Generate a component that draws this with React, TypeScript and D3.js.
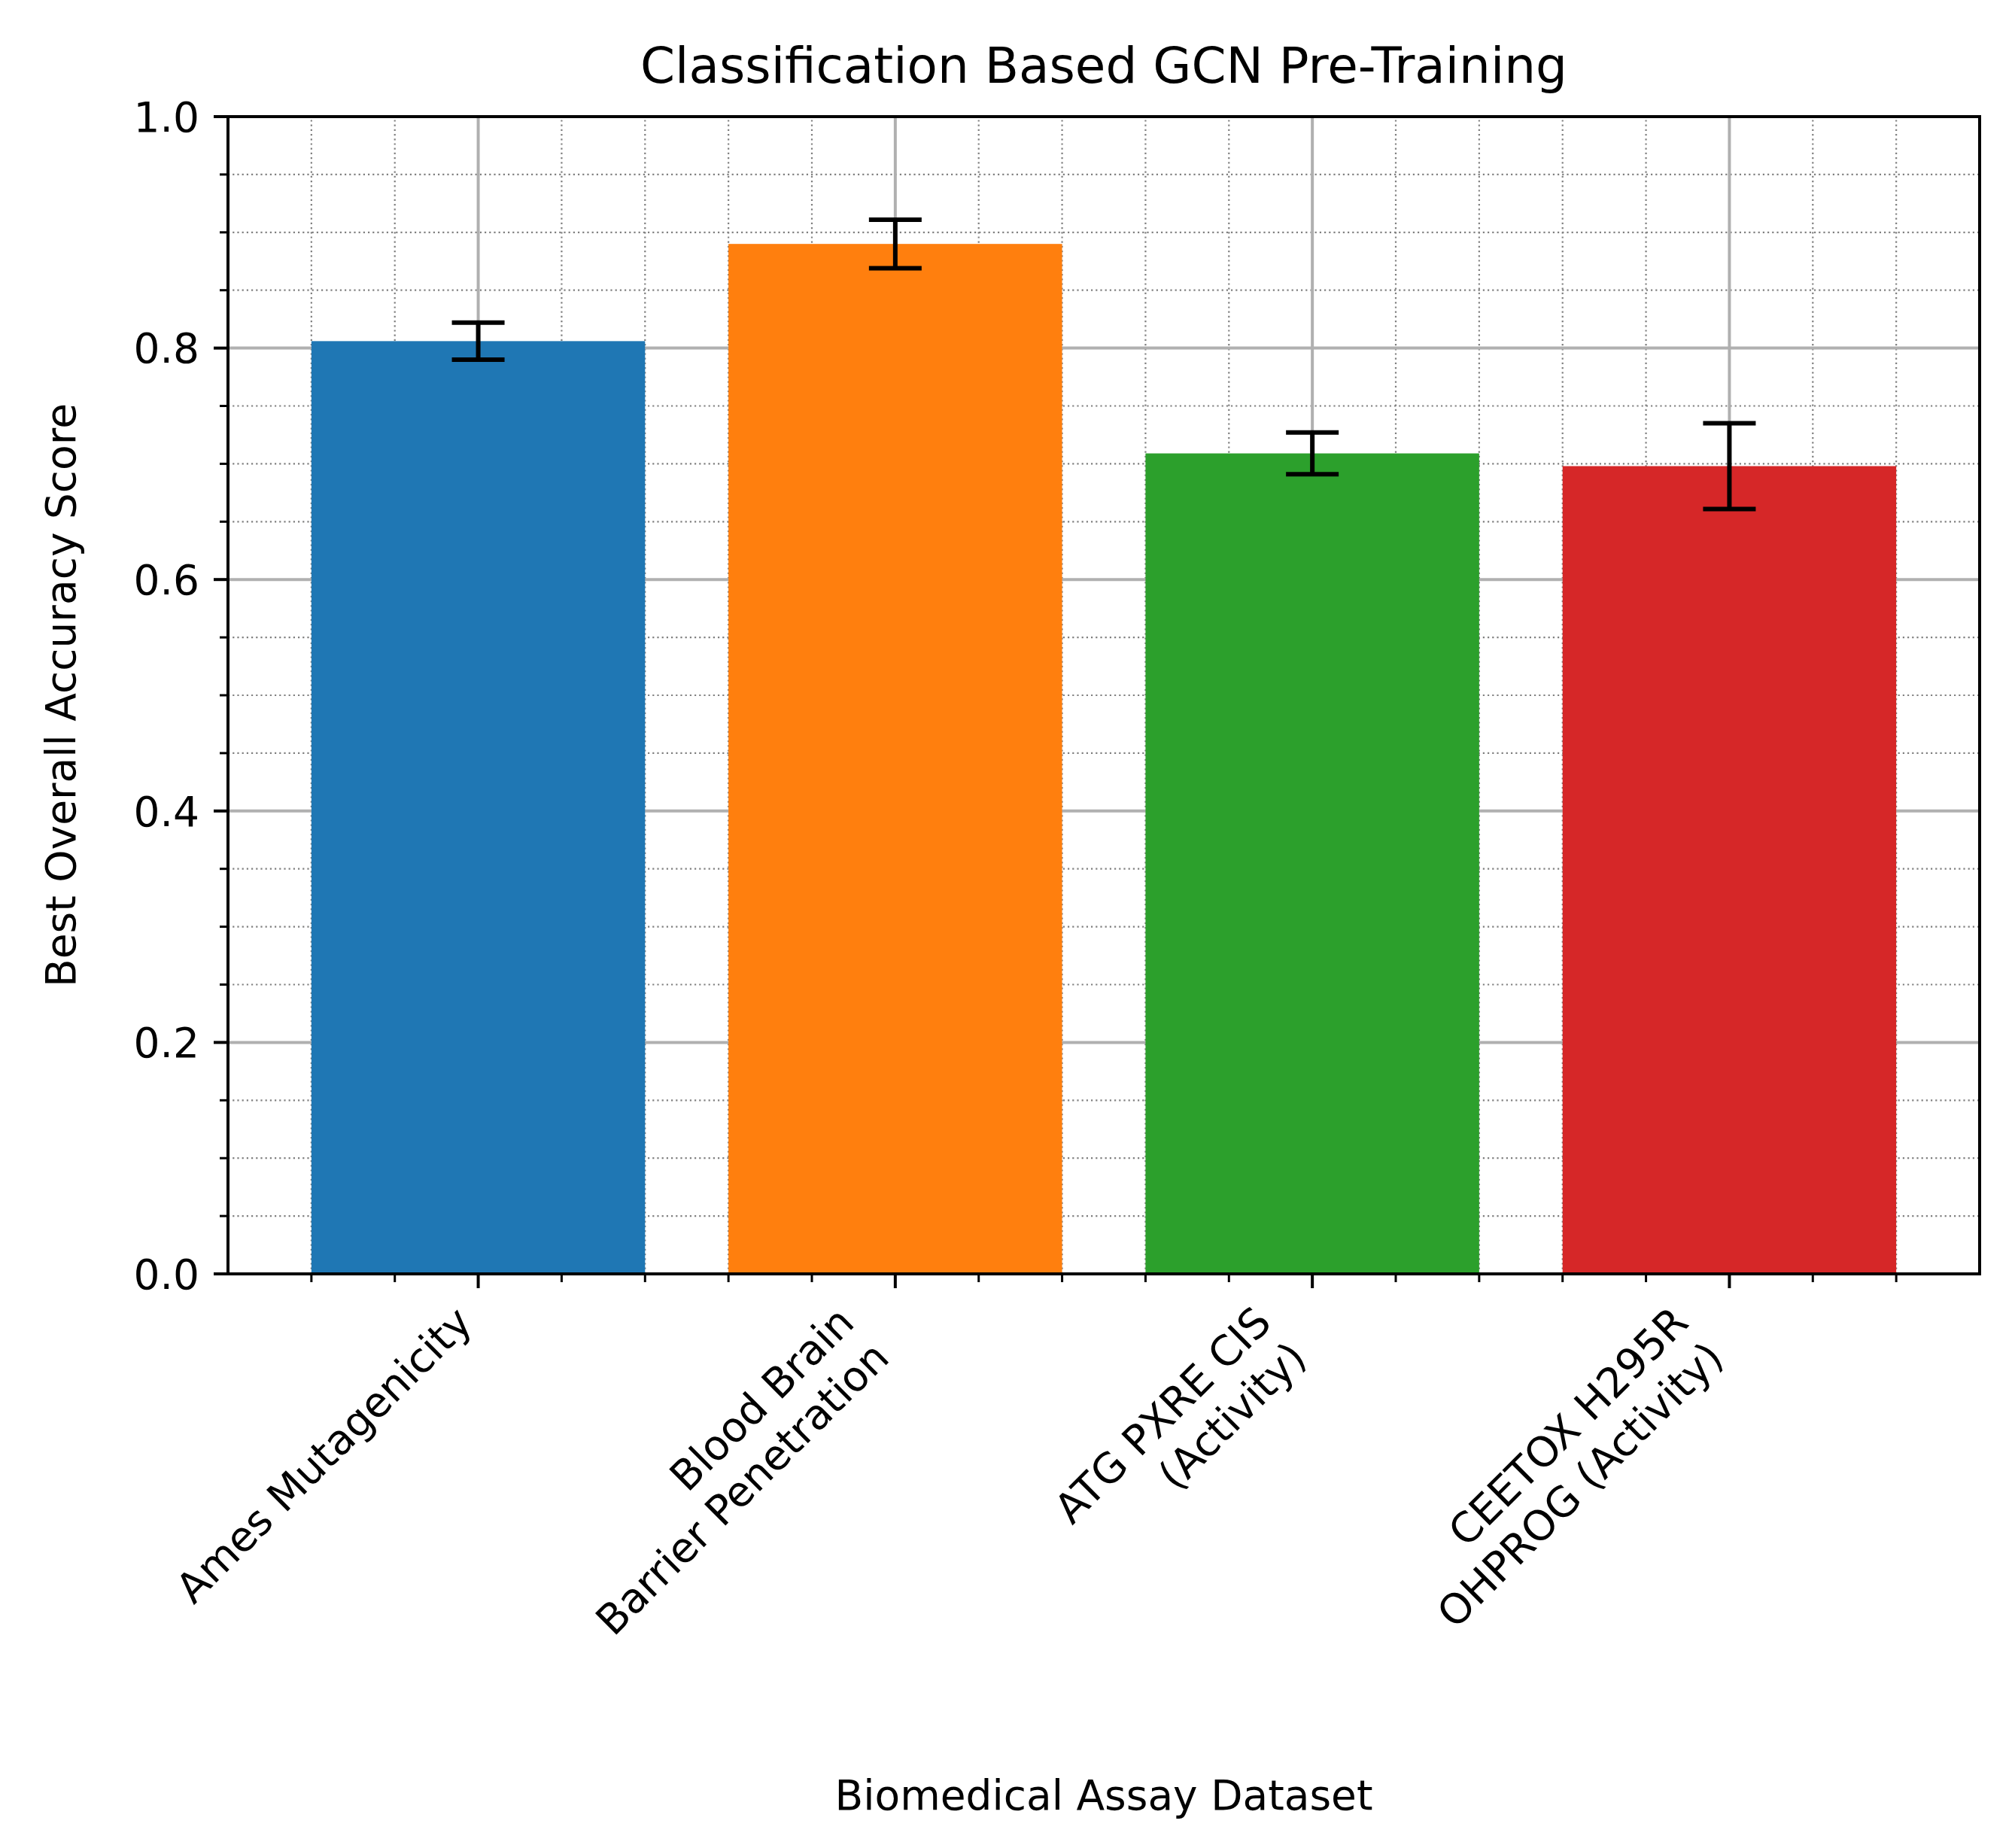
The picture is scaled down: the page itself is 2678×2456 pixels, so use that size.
import { useEffect, useRef } from "react"
import * as d3 from "d3"

const categories = [
  ["Ames Mutagenicity"],
  ["Blood Brain", "Barrier Penetration"],
  ["ATG PXRE CIS", "(Activity)"],
  ["CEETOX H295R", "OHPROG (Activity)"],
]
const scores = [0.806, 0.89, 0.709, 0.698]
const errors = [0.016, 0.021, 0.018, 0.037]
const colors = ["#1f77b4", "#ff7f0e", "#2ca02c", "#d62728"]
const yTicks = [0, 0.2, 0.4, 0.6, 0.8, 1.0]

const W = 2678
const H = 2456

const App = () => {
  const ref = useRef<SVGSVGElement>(null)

  useEffect(() => {
    const svg = d3.select(ref.current)
    svg.selectAll("*").remove()

    const margin = { left: 303, right: W - 2631, top: 155, bottom: H - 1693 }
    const x = d3.scaleLinear().domain([-0.6, 3.6]).range([margin.left, W - margin.right])
    const y = d3.scaleLinear().domain([0, 1]).range([H - margin.bottom, margin.top])
    const font = "DejaVu Sans, sans-serif"
    const fs = 55

    // grids
    const minorX = d3.range(-0.4, 3.5, 0.2).filter((v) => Math.abs(v - Math.round(v)) > 1e-6)
    const minorY = d3.range(0.05, 1, 0.05).filter((v) => Math.abs(v * 5 - Math.round(v * 5)) > 1e-6)
    const g = svg.append("g")
    g.selectAll(".mx").data(minorX).enter().append("line")
      .attr("x1", (d) => x(d)).attr("x2", (d) => x(d)).attr("y1", y(0)).attr("y2", y(1))
      .attr("stroke", "#808080").attr("stroke-width", 2.2).attr("stroke-dasharray", "2.2,4")
    g.selectAll(".my").data(minorY).enter().append("line")
      .attr("x1", x(-0.6)).attr("x2", x(3.6)).attr("y1", (d) => y(d)).attr("y2", (d) => y(d))
      .attr("stroke", "#808080").attr("stroke-width", 2.2).attr("stroke-dasharray", "2.2,4")
    g.selectAll(".MX").data([0, 1, 2, 3]).enter().append("line")
      .attr("x1", (d) => x(d)).attr("x2", (d) => x(d)).attr("y1", y(0)).attr("y2", y(1))
      .attr("stroke", "#b0b0b0").attr("stroke-width", 4)
    g.selectAll(".MY").data(yTicks).enter().append("line")
      .attr("x1", x(-0.6)).attr("x2", x(3.6)).attr("y1", (d) => y(d)).attr("y2", (d) => y(d))
      .attr("stroke", "#b0b0b0").attr("stroke-width", 4)

    // bars
    svg.selectAll(".bar").data(scores).enter().append("rect")
      .attr("x", (_, i) => x(i - 0.4)).attr("width", x(0.8) - x(0))
      .attr("y", (d) => y(d)).attr("height", (d) => y(0) - y(d))
      .attr("fill", (_, i) => colors[i])

    // error bars
    const eb = svg.append("g").attr("stroke", "black").attr("stroke-width", 6)
    scores.forEach((s, i) => {
      const cx = x(i)
      eb.append("line").attr("x1", cx).attr("x2", cx).attr("y1", y(s - errors[i])).attr("y2", y(s + errors[i]))
      ;[s - errors[i], s + errors[i]].forEach((v) =>
        eb.append("line").attr("x1", cx - 35).attr("x2", cx + 35).attr("y1", y(v)).attr("y2", y(v))
      )
    })

    // spines
    svg.append("rect").attr("x", x(-0.6)).attr("y", y(1)).attr("width", x(3.6) - x(-0.6))
      .attr("height", y(0) - y(1)).attr("fill", "none").attr("stroke", "black").attr("stroke-width", 4)

    // ticks
    const t = svg.append("g").attr("stroke", "black")
    yTicks.forEach((v) => {
      t.append("line").attr("x1", x(-0.6) - 19).attr("x2", x(-0.6)).attr("y1", y(v)).attr("y2", y(v)).attr("stroke-width", 4)
      svg.append("text").attr("x", x(-0.6) - 38).attr("y", y(v)).attr("dy", "0.36em")
        .attr("text-anchor", "end").attr("font-family", font).attr("font-size", fs).text(v.toFixed(1))
    })
    minorY.forEach((v) =>
      t.append("line").attr("x1", x(-0.6) - 11).attr("x2", x(-0.6)).attr("y1", y(v)).attr("y2", y(v)).attr("stroke-width", 3)
    )
    minorX.forEach((v) =>
      t.append("line").attr("x1", x(v)).attr("x2", x(v)).attr("y1", y(0)).attr("y2", y(0) + 11).attr("stroke-width", 3)
    )
    const c = Math.SQRT1_2
    const lh = 1.2 * fs
    categories.forEach((lines, i) => {
      t.append("line").attr("x1", x(i)).attr("x2", x(i)).attr("y1", y(0)).attr("y2", y(0) + 19).attr("stroke-width", 4)
      const X = x(i) + 4
      const Y = y(0) + 38
      const n = lines.length
      const ax = X - c * ((n - 1) * lh + 0.24 * fs)
      const ay = Y + c * 0.76 * fs
      const tx = svg.append("text").attr("transform", `translate(${ax},${ay}) rotate(-45)`)
        .attr("text-anchor", "end").attr("font-family", font).attr("font-size", fs)
      lines.forEach((l, j) => tx.append("tspan").attr("x", 0).attr("dy", j === 0 ? 0 : lh).text(l))
    })

    // labels
    svg.append("text").attr("x", (x(-0.6) + x(3.6)) / 2).attr("y", 2405).attr("text-anchor", "middle")
      .attr("font-family", font).attr("font-size", fs).text("Biomedical Assay Dataset")
    svg.append("text").attr("transform", `translate(100,${(y(0) + y(1)) / 2}) rotate(-90)`).attr("text-anchor", "middle")
      .attr("font-family", font).attr("font-size", fs).text("Best Overall Accuracy Score")
    svg.append("text").attr("x", (x(-0.6) + x(3.6)) / 2).attr("y", 110).attr("text-anchor", "middle")
      .attr("font-family", font).attr("font-size", 66).text("Classification Based GCN Pre-Training")
  }, [])

  return (
    <svg ref={ref} width={W} height={H} style={{ position: "absolute", left: 0, top: 0, background: "white" }} />
  )
}

export default App
